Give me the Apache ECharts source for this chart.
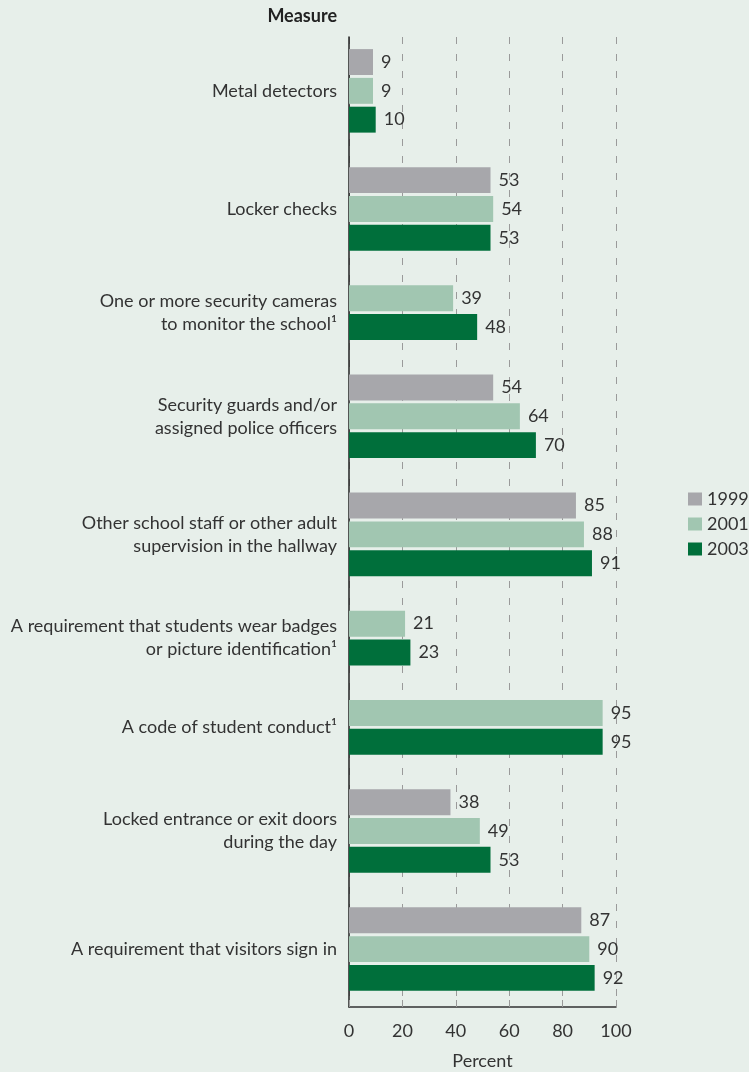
<!DOCTYPE html>
<html>
<head>
<meta charset="utf-8">
<script src="https://cdn.jsdelivr.net/npm/echarts@6/dist/echarts.min.js"></script>
<style>
  html, body { margin: 0; padding: 0; background: #e7efea; }
  #chart { width: 749px; height: 1072px; }
</style>
</head>
<body>
<div id="chart"></div>
<script>
'use strict';

var measures = [
  'Metal detectors',
  'Locker checks',
  'One or more security cameras\nto monitor the school\u00b9',
  'Security guards and/or\nassigned police officers',
  'Other school staff or other adult\nsupervision in the hallway',
  'A requirement that students wear badges\nor picture identification\u00b9',
  'A code of student conduct\u00b9',
  'Locked entrance or exit doors\nduring the day',
  'A requirement that visitors sign in'
];
var years = ['1999', '2001', '2003'];
var v1999 = [9, 53, null, 54, 85, null, null, 38, 87];
var v2001 = [9, 54, 39, 64, 88, 21, 95, 49, 90];
var v2003 = [10, 53, 48, 70, 91, 23, 95, 53, 92];
var xTicks = [0, 20, 40, 60, 80, 100];

var colors = ['#a7a7ab', '#a1c6b1', '#006f3b'];
var groupGap = 2.1;   // distance between groups, in bar rows
var barSize = 0.9;
var font = '18px Lato';

// lay out bar rows: groups have only the bars that have data
var rows = [[], [], []];
var groupCenters = [];
var cursor = -groupGap;
measures.forEach(function (m, i) {
  var vals = [v1999[i], v2001[i], v2003[i]];
  var first = null, last = null;
  vals.forEach(function (v, s) {
    if (v == null) return;
    cursor += (first == null) ? groupGap : 1;
    if (first == null) first = cursor;
    last = cursor;
    rows[s].push([v, cursor]);
  });
  groupCenters.push([0, (first + last) / 2, m]);
});

function renderBar(params, api) {
  var v = api.value(0), p = api.value(1);
  var start = api.coord([0, p]);
  var end = api.coord([v, p]);
  var h = api.size([0, barSize])[1];
  return {
    type: 'group',
    children: [{
      type: 'rect',
      shape: { x: start[0], y: start[1] - h / 2, width: end[0] - start[0], height: h },
      style: { fill: api.visual('color') }
    }, {
      type: 'text',
      x: end[0] + 8,
      y: end[1],
      style: {
        text: String(v), fill: '#333', font: font,
        textAlign: 'left', textVerticalAlign: 'middle'
      }
    }]
  };
}

function renderLabel(params, api) {
  var pt = api.coord([0, api.value(1)]);
  return {
    type: 'text',
    x: pt[0] - 12,
    y: pt[1],
    style: {
      text: measures[params.dataIndex], fill: '#333', font: font,
      textAlign: 'right', textVerticalAlign: 'middle', lineHeight: 23
    }
  };
}

var series = years.map(function (y, s) {
  return {
    name: y,
    type: 'custom',
    renderItem: renderBar,
    itemStyle: { color: colors[s] },
    encode: { x: 0, y: 1 },
    data: rows[s]
  };
});
series.push({
  name: 'labels',
  type: 'custom',
  renderItem: renderLabel,
  encode: { x: 0, y: 1 },
  silent: true,
  data: groupCenters
});

var chart = echarts.init(document.getElementById('chart'));
chart.setOption({
  backgroundColor: '#e7efea',
  animation: false,
  textStyle: { fontFamily: 'Lato' },
  grid: { left: 349, right: 133, top: 37, bottom: 65, outerBoundsMode: 'none' },
  legend: {
    data: years,
    orient: 'vertical',
    left: 683,
    top: 485,
    itemWidth: 14,
    itemHeight: 13,
    itemGap: 7,
    icon: 'rect',
    textStyle: { fontSize: 18, color: '#333' }
  },
  graphic: [{
    type: 'text',
    right: 412,
    top: 7,
    style: { text: 'Measure', font: 'bold 18px Lato', fill: '#222' }
  }],
  xAxis: {
    type: 'value',
    min: xTicks[0],
    max: xTicks[xTicks.length - 1],
    interval: 20,
    name: 'Percent',
    nameLocation: 'middle',
    nameGap: 45,
    nameTextStyle: { fontSize: 18, color: '#333' },
    axisLine: { show: true, onZero: false, lineStyle: { color: '#333', width: 1.5 } },
    axisTick: { show: true, inside: true, length: 7, lineStyle: { color: '#999' } },
    axisLabel: { fontSize: 18, color: '#333', margin: 15 },
    splitLine: { show: true, lineStyle: { color: '#9a9a9a', type: [7, 10] } }
  },
  yAxis: {
    type: 'value',
    inverse: true,
    min: -0.87,
    max: 32.81,
    axisLine: { show: true, onZero: false, lineStyle: { color: '#222', width: 1.5 } },
    axisTick: { show: false },
    axisLabel: { show: false },
    splitLine: { show: false }
  },
  series: series
});
</script>
</body>
</html>
